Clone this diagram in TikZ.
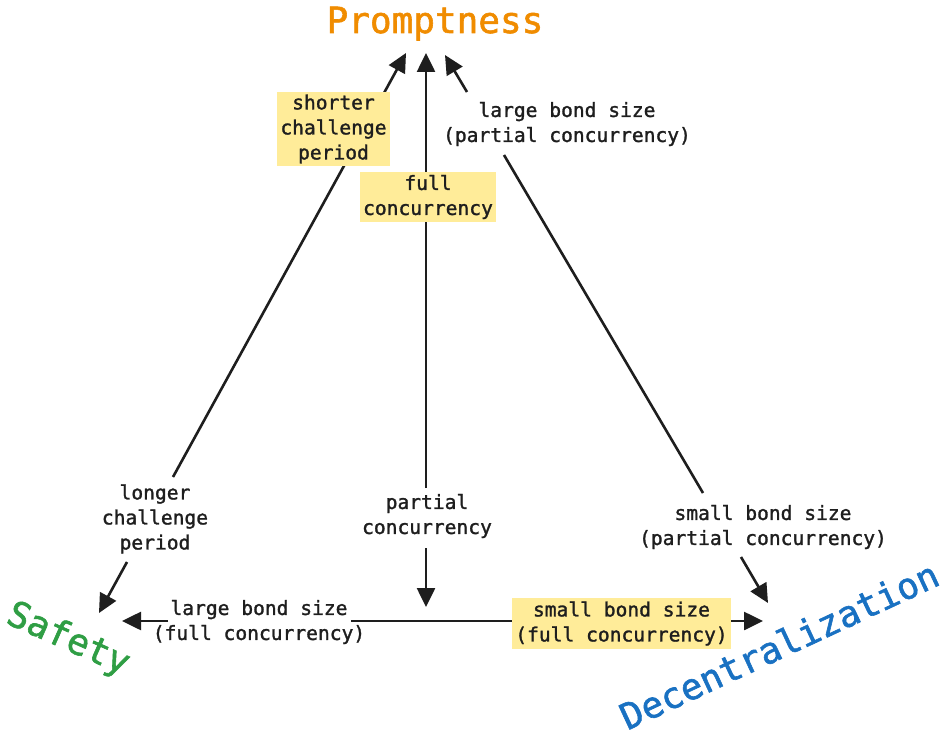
\documentclass[tikz,border=0pt]{standalone}
\usepackage{fontspec}
\setmainfont{DejaVu Sans Mono}
\newfontfamily\lblfont[FakeBold=1.4]{DejaVu Sans Mono}
\newfontfamily\ttlfont[FakeBold=1.6]{DejaVu Sans Mono}
\usetikzlibrary{arrows.meta}
\definecolor{ink}{HTML}{1E1E1E}
\definecolor{promptc}{HTML}{F08C00}
\definecolor{safec}{HTML}{2F9E44}
\definecolor{decc}{HTML}{1971C2}
\definecolor{hl}{HTML}{FFEC99}
\begin{document}
\begin{tikzpicture}[x=1pt,y=-1pt,
  lbl/.style={font=\lblfont\fontsize{19.6}{25}\selectfont, align=center, text=ink, inner sep=0pt},
  hlbox/.style={lbl, fill=hl, inner xsep=3pt, inner ysep=3pt},
  conn/.style={draw=ink, line width=2.6pt},
  tip/.style={conn, -{Triangle[length=19pt,width=18pt]}},
  corner/.style={font=\ttlfont\fontsize{36}{40}\selectfont, inner sep=0pt}]
\useasboundingbox[fill=white] (0,0) rectangle (950,741);

% corner titles
\node[corner, text=promptc, anchor=base] (P) at (435,33) {Promptness};
\node[corner, text=safec, rotate=-24] (S) at (68,640) {Safety};
\node[corner, text=decc, rotate=25] (D) at (779,645) {Decentralization};

% arrow tips
\coordinate (tPl) at (406,53);
\coordinate (tPm) at (426,53);
\coordinate (tPr) at (445,55);
\coordinate (tS)  at (99,613);
\coordinate (tSh) at (122,621);
\coordinate (tD)  at (768,603);
\coordinate (tDh) at (763,621);
\coordinate (tM)  at (426,607);

% line ends at plain labels
\coordinate (lcA)  at (173,477);
\coordinate (lcB)  at (127,562);
\coordinate (pcA)  at (426,488);
\coordinate (pcB)  at (426,548);
\coordinate (lbpA) at (467,92);
\coordinate (lbpB) at (504,155);
\coordinate (sbpA) at (703,493);
\coordinate (sbpB) at (741,557);
\coordinate (lbfA) at (168,621);
\coordinate (lbfB) at (351,621);

% connectors
\draw[tip] (lcA) -- (tPl);
\draw[tip] (lcB) -- (tS);
\draw[tip] (pcA) -- (tPm);
\draw[tip] (pcB) -- (tM);
\draw[tip] (lbpA) -- (tPr);
\draw[conn] (lbpB) -- (sbpA);
\draw[tip] (sbpB) -- (tD);
\draw[tip] (lbfA) -- (tSh);
\draw[tip] (lbfB) -- (tDh);

% labels
\node[hlbox] (sh)  at (333.5,129) {shorter\\challenge\\period};
\node[hlbox] (fc)  at (428,197) {full\\concurrency};
\node[lbl]   (lbp) at (567,124) {large bond size\\(partial concurrency)};
\node[lbl]   (pc)  at (427,516) {partial\\concurrency};
\node[lbl]   (lc)  at (155,519) {longer\\challenge\\period};
\node[lbl]   (sbp) at (763,527) {small bond size\\(partial concurrency)};
\node[lbl]   (lbf) at (259,622) {large bond size\\(full concurrency)};
\node[hlbox] (sbf) at (621.5,623.5) {small bond size\\(full concurrency)};
\end{tikzpicture}
\end{document}
